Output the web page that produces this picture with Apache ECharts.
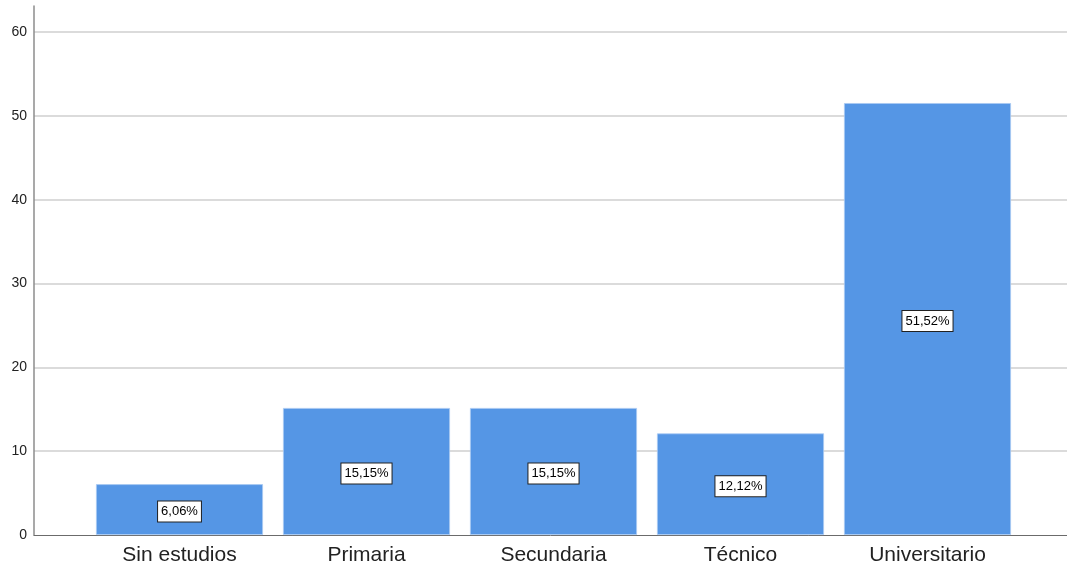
<!DOCTYPE html>
<html><head><meta charset="utf-8">
<script src="https://cdn.jsdelivr.net/npm/echarts@6/dist/echarts.min.js"></script>
<style>html,body{margin:0;padding:0;background:#fff}#c{width:1067px;height:571px}</style>
</head><body><div id="c"></div>
<script>
var categories = ['Sin estudios', 'Primaria', 'Secundaria', 'Técnico', 'Universitario'];
var percents = [6.06, 15.15, 15.15, 12.12, 51.52];
var yTicks = [0, 10, 20, 30, 40, 50, 60];

var chart = echarts.init(document.getElementById('c'), null, {renderer: 'canvas'});
var FONT = 'Liberation Sans, Arial, sans-serif';
var yMax = 63.1;
chart.setOption({
  animation: false,
  grid: [
    {left: 34, right: 0, top: 6, bottom: 36},
    {left: 86, right: 46, top: 6, bottom: 36}
  ],
  xAxis: [
    {gridIndex: 0, type: 'value', min: 0, max: 1, axisLine: {show: true, lineStyle: {color: '#6b6b6b', width: 1}},
     axisTick: {show: false}, axisLabel: {show: false}, splitLine: {show: false}},
    {gridIndex: 1, type: 'category', data: categories, axisLine: {show: false}, axisTick: {show: false},
     axisLabel: {color: '#222', fontFamily: FONT, fontSize: 21, margin: 10}}
  ],
  yAxis: [
    {gridIndex: 0, type: 'value', min: 0, max: yMax, interval: 10,
     axisLine: {show: true, lineStyle: {color: '#8c8c8c', width: 1.5}},
     axisTick: {show: false},
     axisLabel: {showMaxLabel: false, color: '#222', fontFamily: FONT, fontSize: 14, margin: 7,
       formatter: function (v) { return yTicks.indexOf(v) >= 0 ? String(v) : ''; }},
     splitLine: {show: true, showMaxLine: false, showMinLine: false, lineStyle: {color: '#cfcfcf', width: 1.5}}},
    {gridIndex: 1, type: 'value', min: 0, max: yMax, interval: 10, show: false, splitLine: {show: false}}
  ],
  series: [{
    type: 'bar', xAxisIndex: 1, yAxisIndex: 1, data: percents, barWidth: 167,
    itemStyle: {color: '#5596e5', borderColor: '#a9c9f2', borderWidth: 0.8},
    label: {show: true, position: 'inside', offset: [0, 2], fontFamily: FONT, fontSize: 13, color: '#000',
      backgroundColor: '#fff', borderColor: '#222', borderWidth: 1, padding: [4, 3, 3, 3],
      formatter: function (p) { return p.value.toFixed(2).replace('.', ',') + '%'; }}
  }]
});
</script></body></html>
